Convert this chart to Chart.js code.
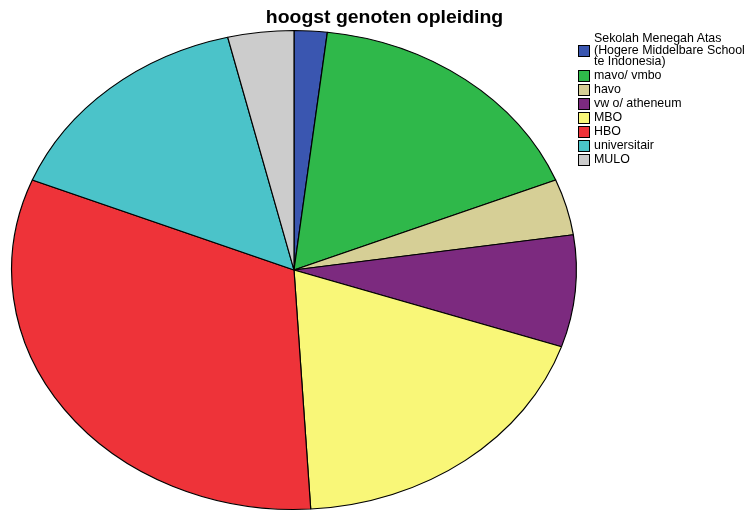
<!DOCTYPE html>
<html>
<head>
<meta charset="utf-8">
<script src="https://cdn.jsdelivr.net/npm/chart.js@4/dist/chart.umd.min.js"></script>
<style>
body{margin:0;background:#fff;font-family:"Liberation Sans",Arial,sans-serif;}
#wrap{position:relative;width:756px;height:512px;overflow:hidden;}
#title{position:absolute;left:0;width:769px;top:7px;text-align:center;font-weight:bold;font-size:17.5px;color:#000;transform:scaleX(1.11);}
#legend{position:absolute;left:578px;top:32px;font-size:12.4px;color:#000;white-space:nowrap;}
.row{display:flex;align-items:center;height:14px;}
.row.multi{height:37px;}
.box{width:10px;height:10px;border:1px solid #000;margin-right:4px;flex:none;}
.txt{line-height:11.5px;}
</style>
</head>
<body>
<div id="wrap">
<canvas id="pie" width="756" height="512"></canvas>
<div id="title">hoogst genoten opleiding</div>
<div id="legend"></div>
</div>
<script>
let labels = ["Sekolah Menegah Atas (Hogere Middelbare School te Indonesia)","mavo/ vmbo","havo","vw o/ atheneum","MBO","HBO","universitair","MULO"];
let legendText = [["Sekolah Menegah Atas","(Hogere Middelbare School","te Indonesia)"],["mavo/ vmbo"],["havo"],["vw o/ atheneum"],["MBO"],["HBO"],["universitair"],["MULO"]];
let counts = [1,9,2,4,10,17,8,2];
let colors = ["#3a56b0","#2fb84a","#d6cf96","#7c2a7f","#f9f778","#ee3339","#4bc3c9","#cccccc"];

// pie in the picture is an ellipse, stretch it horizontally
let stretch = {
    id:"stretch",
    beforeDatasetsDraw(chart){
        let ctx = chart.ctx;
        let a = chart.chartArea;
        let cx = (a.left+a.right)/2;
        ctx.save();
        ctx.translate(cx,0);
        ctx.scale(283/240,1);
        ctx.translate(-cx,0);
    },
    afterDatasetsDraw(chart){
        chart.ctx.restore();
    }
};

new Chart(document.getElementById("pie"),{
    type:"pie",
    data:{
        labels:labels,
        datasets:[{
            data:counts,
            backgroundColor:colors,
            borderColor:"#000",
            borderWidth:1
        }]
    },
    options:{
        responsive:false,
        animation:false,
        layout:{padding:{left:54,right:222,top:30,bottom:2}},
        plugins:{legend:{display:false},tooltip:{enabled:false}}
    },
    plugins:[stretch]
});

let legend = document.getElementById("legend");
legendText.forEach((t,i)=>{
    legend.innerHTML += `
    <div class="row${t.length>1?" multi":""}">
    <div class="box" style="background:${colors[i]}"></div>
    <div class="txt">${t.join("<br>")}</div>
    </div>`;
});
</script>
</body>
</html>
